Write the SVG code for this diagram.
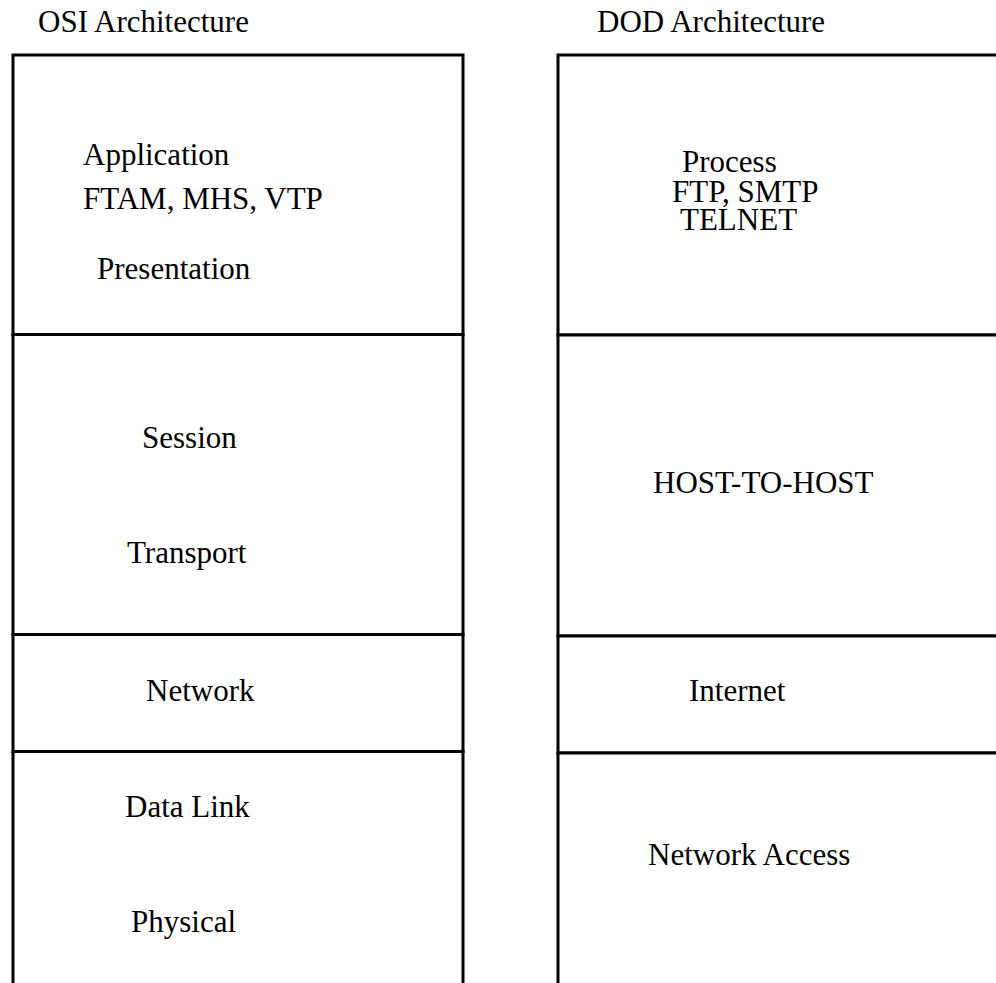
<svg xmlns="http://www.w3.org/2000/svg" width="996" height="983" viewBox="0 0 996 983">
  <style>
    .cell { fill: #ffffff; stroke: #000000; stroke-width: 3; }
    .lbl { font-family: "Liberation Serif", "Times New Roman", serif; font-size: 31px; fill: #000000; }
  </style>
  <rect x="0" y="0" width="996" height="983" fill="#ffffff"/>

  <!-- column headings -->
  <g id="heading-osi"><text class="lbl" x="38" y="32">OSI Architecture</text></g>
  <g id="heading-dod"><text class="lbl" x="597" y="32">DOD Architecture</text></g>

  <!-- OSI stack -->
  <g id="osi-application">
    <rect class="cell" x="13" y="55" width="450" height="279.5"/>
    <text class="lbl" x="83" y="165">Application</text>
    <text class="lbl" x="83" y="209">FTAM, MHS, VTP</text>
    <text class="lbl" x="97" y="279">Presentation</text>
  </g>
  <g id="osi-session">
    <rect class="cell" x="13" y="334.5" width="450" height="300"/>
    <text class="lbl" x="142" y="448">Session</text>
    <text class="lbl" x="127" y="563">Transport</text>
  </g>
  <g id="osi-network">
    <rect class="cell" x="13" y="634.5" width="450" height="117"/>
    <text class="lbl" x="146" y="701">Network</text>
  </g>
  <g id="osi-datalink">
    <rect class="cell" x="13" y="751.5" width="450" height="260"/>
    <text class="lbl" x="125" y="817">Data Link</text>
    <text class="lbl" x="131" y="932">Physical</text>
  </g>

  <!-- DOD stack -->
  <g id="dod-process">
    <rect class="cell" x="558" y="55" width="460" height="280"/>
    <text class="lbl" x="682" y="172">Process</text>
    <text class="lbl" x="672" y="202">FTP, SMTP</text>
    <text class="lbl" x="680" y="230">TELNET</text>
  </g>
  <g id="dod-host">
    <rect class="cell" x="558" y="335" width="460" height="301"/>
    <text class="lbl" x="653" y="493">HOST-TO-HOST</text>
  </g>
  <g id="dod-internet">
    <rect class="cell" x="558" y="636" width="460" height="117"/>
    <text class="lbl" x="689" y="701">Internet</text>
  </g>
  <g id="dod-access">
    <rect class="cell" x="558" y="753" width="460" height="260"/>
    <text class="lbl" x="648" y="865">Network Access</text>
  </g>

  <g id="connectors"></g>
</svg>
